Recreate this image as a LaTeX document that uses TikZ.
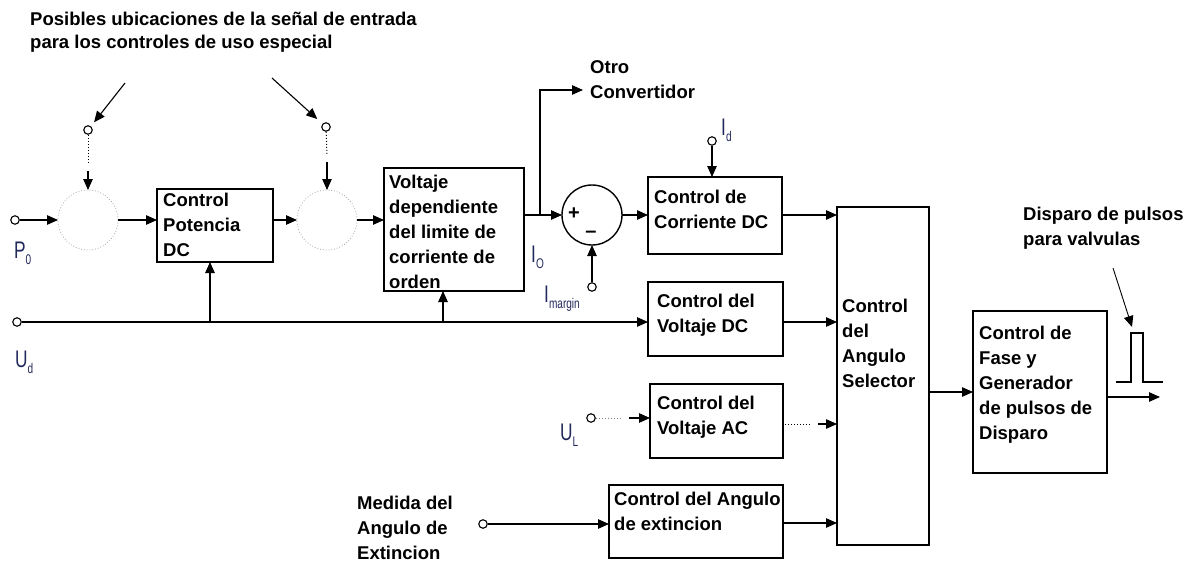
\documentclass[tikz,border=0pt]{standalone}
\usepackage{fontspec}
\setmainfont{Liberation Sans}
\newfontfamily\narrowfont[FakeStretch=0.72]{Liberation Sans}
\usetikzlibrary{arrows.meta,calc}
\definecolor{lab}{rgb}{0.13,0.16,0.36}
\tikzset{
  x=1pt,y=-1pt,
  conn/.style={line width=1.1pt},
  arr/.style={line width=1.1pt,-{Triangle[length=11pt,width=9.5pt]}},
  dotl/.style={line width=1pt,dotted},
  blk/.style={draw,line width=1.1pt,anchor=north west,inner sep=0pt,outer sep=0pt},
  txt/.style={anchor=north west,inner sep=0pt,align=left,font=\bfseries\fontsize{18.5}{25}\selectfont},
  term/.style={circle,draw,line width=1.1pt,fill=white,minimum size=8.5pt,inner sep=0pt},
  dcirc/.style={circle,draw=gray!70,dotted,line width=0.8pt,minimum size=60pt,inner sep=0pt,outer sep=0pt},
  lbl/.style={inner sep=0pt,anchor=base west,text=lab,font=\narrowfont\fontsize{24}{24}\selectfont},
}
\newcommand{\sub}[1]{\raisebox{-6pt}{\fontsize{14}{14}\selectfont #1}}
\begin{document}
\begin{tikzpicture}
\useasboundingbox (0,0) rectangle (1200,565);
% title
\node[txt,font=\bfseries\fontsize{18.5}{23}\selectfont] (title) at (30,12) {Posibles ubicaciones de la señal de entrada\\para los controles de uso especial};
% summing-place circles and inputs
\node[dcirc] (c1) at (88,220) {};
\node[dcirc] (c2) at (327,220) {};
\node[term] (t1) at (88,130) {};
\node[term] (t2) at (326,127) {};
\coordinate (a1) at (125,83);
\coordinate (a2) at (272,78);
\draw[arr,shorten >=5pt] (a1) -- (t1);
\draw[arr,shorten >=7pt] (a2) -- (t2);
\coordinate (d1) at (88,163);
\coordinate (d1b) at (88,171);
\coordinate (d2) at (327,155);
\coordinate (d2b) at (327,162);
\draw[dotl] (t1) -- (d1);
\draw[arr] (d1b) -- (c1.north);
\draw[dotl] (t2) -- (d2);
\draw[arr] (d2b) -- (c2.north);
% P0
\node[term] (tp) at (15,220) {};
\node[lbl] (lp) at (14,258) {P\sub{0}};
\draw[arr] (tp) -- (c1.west);
% block 1
\node[blk,minimum width=116pt,minimum height=73pt] (b1) at (157,189) {};
\node[txt] (b1t) at (163,193) {Control\\Potencia\\DC};
\draw[arr] (c1.east) -- (b1.west |- c1.east);
\draw[arr] (b1.east |- c2.west) -- (c2.west);
% block 2
\node[blk,minimum width=140pt,minimum height=123pt] (b2) at (384,168) {};
\node[txt] (b2t) at (389,175) {Voltaje\\dependiente\\del limite de\\corriente de\\orden};
\draw[arr] (c2.east) -- (b2.west |- c2.east);
% Ud line
\node[term] (tu) at (17,322) {};
\node[lbl] (lu) at (15,367) {U\sub{d}};
\node[blk,minimum width=135pt,minimum height=74pt] (b4) at (648,282) {};
\node[txt] (b4t) at (657,294) {Control del\\Voltaje DC};
\draw[arr] (tu) -- (b4.west |- tu);
\coordinate (j1) at (210,322);
\coordinate (j2) at (443,322);
\draw[arr] (j1) -- (j1 |- b1.south);
\draw[arr] (j2) -- (j2 |- b2.south);
% summing junction
\node[circle,draw,line width=1.4pt,minimum size=60pt,inner sep=0pt,outer sep=0pt] (s) at (592,215) {};
\node[inner sep=0pt,font=\bfseries\fontsize{20}{20}\selectfont] (plus) at (574,214) {+};
\node[inner sep=0pt,font=\bfseries\fontsize{20}{20}\selectfont] (minus) at (591,234) {\textendash};
\draw[arr] (b2.east |- s.west) -- (s.west);
\coordinate (j3) at (540,215);
\coordinate (k1) at (540,90);
\coordinate (ko) at (583,90);
\draw[arr] (j3) -- (k1) -- (ko);
\node[txt] (otro) at (590,60) {Otro\\Convertidor};
\node[lbl] (lio) at (531,262) {I\sub{O}};
\node[term] (tm) at (592,287) {};
\draw[arr] (tm) -- (s.south);
\node[lbl] (lim) at (544,302) {I\sub{margin}};
% block 3
\node[blk,minimum width=134pt,minimum height=77pt] (b3) at (648,177) {};
\node[txt] (b3t) at (654,190) {Control de\\Corriente DC};
\draw[arr] (s.east) -- (b3.west |- s.east);
\node[term] (td) at (712,141) {};
\node[lbl] (lid) at (721,135) {I\sub{d}};
\draw[arr] (td) -- (td |- b3.north);
% selector
\node[blk,minimum width=92pt,minimum height=338pt] (b7) at (837,207) {};
\node[txt] (b7t) at (842,299) {Control\\del\\Angulo\\Selector};
\draw[arr] (b3.east |- s.east) -- (b7.west |- s.east);
\coordinate (o4) at (783,322);
\draw[arr] (o4) -- (o4 -| b7.west);
% block 5 (AC)
\node[blk,minimum width=133pt,minimum height=74pt] (b5) at (650,384) {};
\node[txt] (b5t) at (657,396) {Control del\\Voltaje AC};
\node[term] (tl) at (591,418) {};
\node[lbl] (lul) at (560,440) {U\sub{L}};
\coordinate (e5) at (622,418);
\coordinate (e5b) at (629,418);
\draw[dotl,draw=gray] (tl) -- (e5);
\draw[arr] (e5b) -- (e5b -| b5.west);
\coordinate (o5) at (785,424);
\coordinate (o5a) at (812,424);
\coordinate (o5b) at (818,424);
\draw[dotl] (o5) -- (o5a);
\draw[arr] (o5b) -- (o5b -| b7.west);
% block 6
\node[blk,minimum width=174pt,minimum height=73pt] (b6) at (609,485) {};
\node[txt] (b6t) at (614,492) {Control del Angulo\\de extincion};
\node[term] (te) at (483,524) {};
\node[txt] (med) at (357,496) {Medida del\\Angulo de\\Extincion};
\draw[arr] (te) -- (b6.west |- te);
\coordinate (o6) at (783,523);
\draw[arr] (o6) -- (o6 -| b7.west);
% block 8
\node[blk,minimum width=134pt,minimum height=162pt] (b8) at (973,311) {};
\node[txt] (b8t) at (979,326) {Control de\\Fase y\\Generador\\de pulsos de\\Disparo};
\coordinate (o7) at (929,392);
\draw[arr] (o7) -- (o7 -| b8.west);
\coordinate (o8) at (1107,397);
\coordinate (out) at (1160,397);
\draw[arr] (o8) -- (out);
% pulse
\draw[conn] (1116,382) -- (1131,382) -- (1131,333) -- (1143,333) -- (1143,382) -- (1163,382);
\node[txt] (disp) at (1023,207) {Disparo de pulsos\\para valvulas};
\coordinate (p1) at (1113,268);
\coordinate (p2) at (1132,327);
\draw[arr,line width=0.9pt] (p1) -- (p2);
\end{tikzpicture}
\end{document}
